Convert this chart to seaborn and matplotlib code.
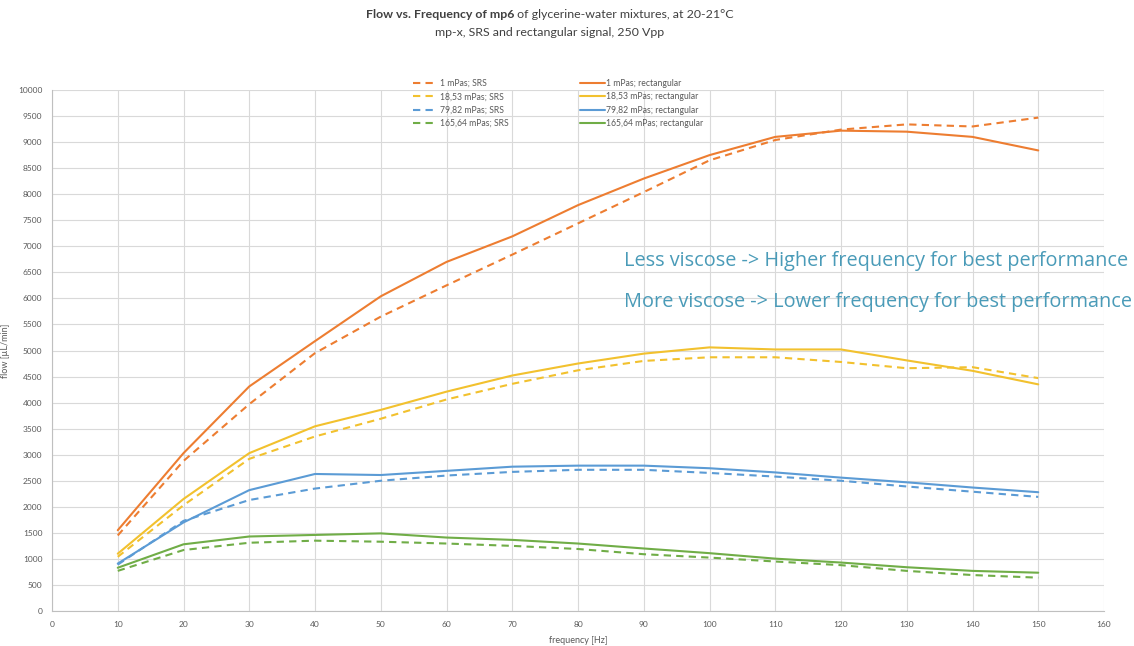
import matplotlib
matplotlib.use("Agg")
import matplotlib.pyplot as plt
import seaborn as sns
import pandas as pd

# frequency points [Hz]
freq = [10, 20, 30, 40, 50, 60, 70, 80, 90, 100, 110, 120, 130, 140, 150]

# flow [uL/min]
srs_1 = [1450, 2880, 3970, 4950, 5650, 6250, 6840, 7440, 8040, 8650, 9040, 9240, 9340, 9300, 9470]
rect_1 = [1550, 3030, 4310, 5180, 6040, 6700, 7190, 7790, 8300, 8750, 9100, 9220, 9200, 9100, 8840]
srs_18 = [1040, 2030, 2920, 3350, 3690, 4060, 4360, 4620, 4800, 4870, 4870, 4780, 4660, 4680, 4470]
rect_18 = [1100, 2150, 3030, 3545, 3860, 4210, 4520, 4750, 4940, 5060, 5020, 5020, 4810, 4610, 4350]
srs_79 = [890, 1730, 2130, 2350, 2500, 2600, 2670, 2710, 2710, 2650, 2580, 2500, 2390, 2290, 2190]
rect_79 = [910, 1700, 2320, 2630, 2610, 2690, 2770, 2790, 2790, 2740, 2660, 2560, 2470, 2370, 2280]
srs_165 = [770, 1170, 1310, 1350, 1330, 1295, 1250, 1190, 1090, 1025, 950, 880, 770, 690, 640]
rect_165 = [830, 1280, 1430, 1460, 1490, 1410, 1365, 1295, 1200, 1110, 1005, 930, 840, 770, 735]

labels_srs = ["1 mPas; SRS", "18,53 mPas; SRS", "79,82 mPas; SRS", "165,64 mPas; SRS"]
labels_rect = ["1 mPas; rectangular", "18,53 mPas; rectangular",
               "79,82 mPas; rectangular", "165,64 mPas; rectangular"]
colors = ["#ED7D31", "#F2C12E", "#5B9BD5", "#70AD47"]

sns.set_style("white")
plt.rcParams['font.family'] = ['Lato', 'DejaVu Sans']

fig = plt.figure(figsize=(11.34, 6.46), dpi=100)
ax = fig.add_axes([52 / 1134, 1 - 611 / 646, (1104 - 52) / 1134, (611 - 90) / 646])

for vals, lab, c in zip([srs_1, srs_18, srs_79, srs_165], labels_srs, colors):
    df = pd.DataFrame({"freq": freq, "flow": vals})
    sns.lineplot(data=df, x="freq", y="flow", ax=ax, color=c, lw=1.5,
                 linestyle=(0, (3.5, 2.5)), label=lab)
for vals, lab, c in zip([rect_1, rect_18, rect_79, rect_165], labels_rect, colors):
    df = pd.DataFrame({"freq": freq, "flow": vals})
    sns.lineplot(data=df, x="freq", y="flow", ax=ax, color=c, lw=1.5, label=lab)

ax.set_xlim(0, 160)
ax.set_ylim(0, 10000)
ax.set_xticks(range(0, 161, 10))
ax.set_yticks(range(0, 10001, 500))
ax.grid(True, color="#d9d9d9", lw=0.8)
ax.set_axisbelow(True)
for s in ["top", "right"]:
    ax.spines[s].set_visible(False)
for s in ["left", "bottom"]:
    ax.spines[s].set_color("#bfbfbf")
    ax.spines[s].set_linewidth(0.8)
ax.tick_params(axis="both", labelsize=6, colors="#595959", length=0, pad=7)
ax.set_xlabel("frequency [Hz]", fontsize=6.5, color="#595959", labelpad=6)
ax.set_ylabel("flow [µL/min]", fontsize=6.5, color="#595959", labelpad=6)

leg = ax.legend(ncol=2, loc="upper left", bbox_to_anchor=(413 / 1134, 1 - 79 / 646),
                bbox_transform=fig.transFigure, frameon=False,
                fontsize=6.2, handlelength=2.9, columnspacing=8.3, labelspacing=0.5,
                handletextpad=0.2, labelcolor="#595959", borderaxespad=0, borderpad=0)

ax.text(0.544, 0.663, "Less viscose -> Higher frequency for best performance",
        transform=ax.transAxes, fontsize=14.3, color="#4A9BB8", family=["Open Sans", "DejaVu Sans"])
ax.text(0.544, 0.583, "More viscose -> Lower frequency for best performance",
        transform=ax.transAxes, fontsize=14.3, color="#4A9BB8", family=["Open Sans", "DejaVu Sans"])

# title: bold part + regular part on first line
fig.canvas.draw()
r = fig.canvas.get_renderer()
xc = 550 / 1134
y1 = 1 - 15 / 646
t1 = fig.text(0, y1, "Flow vs. Frequency of mp6", fontsize=8.9, fontweight="bold",
              color="#404040", va="center")
t2 = fig.text(0, y1, " of glycerine-water mixtures, at 20-21°C", fontsize=8.9,
              color="#404040", va="center")
w1 = t1.get_window_extent(r).width / fig.bbox.width
w2 = t2.get_window_extent(r).width / fig.bbox.width
x0 = xc - (w1 + w2) / 2
t1.set_x(x0)
t2.set_x(x0 + w1)
fig.text(xc, 1 - 32 / 646, "mp-x, SRS and rectangular signal, 250 Vpp", fontsize=8.9,
         color="#404040", ha="center", va="center")

fig.savefig("out.png", dpi=100)
